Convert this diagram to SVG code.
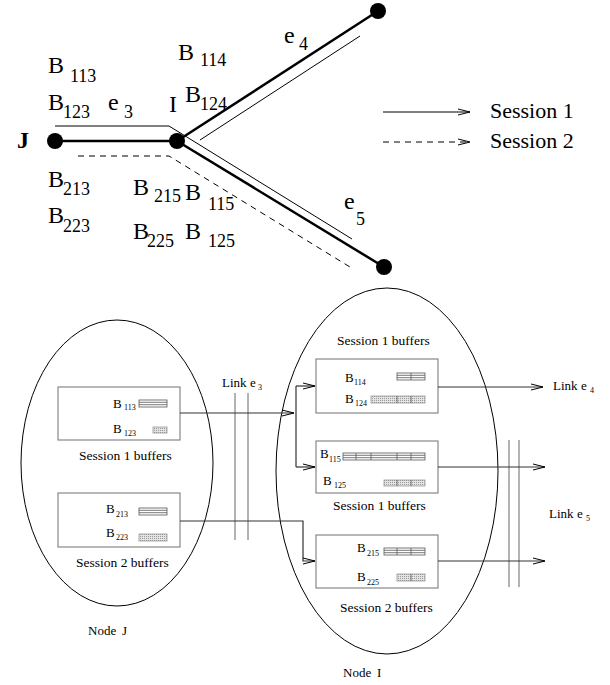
<svg xmlns="http://www.w3.org/2000/svg" width="610" height="685" viewBox="0 0 610 685">
<style>
text{font-family:"Liberation Serif","Times New Roman",serif;fill:#000}
.big{font-size:24px}
.sub{font-size:18px}
.leg{font-size:22px}
.sm{font-size:13.5px}
.bl{font-size:13px}
.bs{font-size:8px}
.thick{stroke:#000;stroke-width:2.5;fill:none}
.thin{stroke:#000;stroke-width:1;fill:none}
.dash{stroke:#000;stroke-width:1;fill:none;stroke-dasharray:6,5}
.box{fill:#fff;stroke:#888;stroke-width:1.2}
.ell{fill:none;stroke:#000;stroke-width:1}
.link{stroke:#666;stroke-width:1;fill:none}
.conn{stroke:#333;stroke-width:1.2;fill:none}
.q{fill:#fff;stroke:#555;stroke-width:0.8}
.h{fill:url(#dots);stroke:#999;stroke-width:0.8}
</style>
<defs>
<marker id="arr" markerWidth="14" markerHeight="8" refX="13" refY="4" orient="auto" markerUnits="userSpaceOnUse">
<path d="M1,1 L13,4 L1,7" fill="none" stroke="#000" stroke-width="1"/>
</marker>
<pattern id="dots" width="2" height="2" patternUnits="userSpaceOnUse">
<rect width="2" height="2" fill="#e4e4e4"/>
<rect width="1" height="1" fill="#9a9a9a"/>
</pattern>
</defs>

<!-- top graph -->
<g id="connectors-top">
<line class="thick" x1="55" y1="141" x2="177" y2="141"/>
<line class="thick" x1="177" y1="141" x2="378" y2="11"/>
<line class="thick" x1="177" y1="141" x2="384" y2="267"/>
<polyline class="thin" points="55,126 169,126 352,239"/>
<line class="thin" x1="200" y1="140" x2="360" y2="36"/>
<polyline class="dash" points="78,156 169,156 350,267"/>
</g>
<g id="node-J"><circle cx="55" cy="141" r="8"/><text class="big" x="17" y="148" font-weight="bold">J</text></g>
<g id="node-I"><circle cx="177" cy="141" r="8"/><text class="big" x="169" y="112">I</text></g>
<g id="node-top"><circle cx="378" cy="11" r="8"/></g>
<g id="node-bottom"><circle cx="384" cy="267" r="8"/></g>

<g id="labels-top">
<text class="big" x="48" y="73">B</text><text class="sub" x="70" y="82">113</text>
<text class="big" x="48" y="110">B</text><text class="sub" x="63" y="118">123</text>
<text class="big" x="108" y="110">e</text><text class="sub" x="124" y="118">3</text>
<text class="big" x="178" y="60">B</text><text class="sub" x="200" y="66">114</text>
<text class="big" x="185" y="102">B</text><text class="sub" x="200" y="110">124</text>
<text class="big" x="284" y="43">e</text><text class="sub" x="299" y="50">4</text>
<text class="big" x="48" y="187">B</text><text class="sub" x="63" y="195">213</text>
<text class="big" x="48" y="223">B</text><text class="sub" x="63" y="232">223</text>
<text class="big" x="133" y="195">B</text><text class="sub" x="154" y="202">215</text>
<text class="big" x="185" y="200">B</text><text class="sub" x="208" y="210">115</text>
<text class="big" x="133" y="239">B</text><text class="sub" x="147" y="247">225</text>
<text class="big" x="185" y="239">B</text><text class="sub" x="208" y="247">125</text>
<text class="big" x="344" y="209">e</text><text class="sub" x="356" y="225">5</text>
</g>

<g id="legend">
<line class="thin" x1="383" y1="112" x2="470" y2="112" marker-end="url(#arr)"/>
<text class="leg" x="490" y="118">Session 1</text>
<line class="dash" x1="383" y1="142" x2="470" y2="142" marker-end="url(#arr)"/>
<text class="leg" x="490" y="148">Session 2</text>
</g>

<!-- bottom -->
<g id="node-J-big">
<ellipse class="ell" cx="117" cy="463" rx="96" ry="143"/>
<text class="bl" x="88" y="635">Node</text><text class="bl" x="122" y="635">J</text>
</g>
<g id="node-I-big">
<ellipse class="ell" cx="387" cy="471" rx="111" ry="183"/>
<text class="bl" x="343" y="677">Node</text><text class="bl" x="377" y="677">I</text>
</g>

<g id="links">
<line class="link" x1="235" y1="393" x2="235" y2="540"/>
<line class="link" x1="248" y1="393" x2="248" y2="540"/>
<text class="bl" x="222" y="387">Link</text><text class="bl" x="250" y="387">e</text><text class="bs" x="258" y="390">3</text>
<line class="link" x1="509" y1="440" x2="509" y2="587"/>
<line class="link" x1="519" y1="440" x2="519" y2="587"/>
<text class="bl" x="549" y="518">Link</text><text class="bl" x="577" y="518">e</text><text class="bs" x="586" y="521">5</text>
<text class="bl" x="553" y="390">Link</text><text class="bl" x="581" y="390">e</text><text class="bs" x="590" y="393">4</text>
</g>

<g id="box-J1">
<rect class="box" x="58" y="387" width="122" height="53"/>
<text class="bl" x="113" y="408">B</text><text class="bs" x="124" y="410">113</text>
<rect class="q" x="139" y="400" width="28" height="7"/><line class="q" x1="139" y1="402.3" x2="167" y2="402.3"/><line class="q" x1="139" y1="404.7" x2="167" y2="404.7"/>
<text class="bl" x="113" y="433">B</text><text class="bs" x="124" y="436">123</text>
<rect class="h" x="153" y="427" width="14" height="6"/>
<text class="sm" x="79" y="460">Session 1 buffers</text>
</g>
<g id="box-J2">
<rect class="box" x="58" y="493" width="122" height="54"/>
<text class="bl" x="106" y="513">B</text><text class="bs" x="116" y="517">213</text>
<rect class="q" x="139" y="508" width="28" height="7"/><line class="q" x1="139" y1="510.3" x2="167" y2="510.3"/><line class="q" x1="139" y1="512.7" x2="167" y2="512.7"/>
<text class="bl" x="106" y="537">B</text><text class="bs" x="116" y="540">223</text>
<rect class="h" x="139" y="534" width="28" height="7"/>
<text class="sm" x="76" y="567">Session 2 buffers</text>
</g>

<g id="box-I1">
<text class="sm" x="337" y="345">Session 1 buffers</text>
<rect class="box" x="316" y="359" width="122" height="54"/>
<text class="bl" x="345" y="382">B</text><text class="bs" x="354" y="385">114</text>
<rect class="q" x="397" y="373" width="28" height="7"/><line class="q" x1="397" y1="375.3" x2="425" y2="375.3"/><line class="q" x1="397" y1="377.7" x2="425" y2="377.7"/><line class="q" x1="411" y1="373" x2="411" y2="380"/>
<text class="bl" x="345" y="403">B</text><text class="bs" x="355" y="406">124</text>
<rect class="h" x="371" y="396" width="54" height="7"/><line class="q" x1="397" y1="396" x2="397" y2="403"/><line class="q" x1="411" y1="396" x2="411" y2="403"/>
</g>
<g id="box-I2">
<rect class="box" x="316" y="441" width="122" height="52"/>
<text class="bl" x="320" y="458">B</text><text class="bs" x="329" y="462">115</text>
<rect class="q" x="343" y="453" width="82" height="7"/><line class="q" x1="343" y1="455.3" x2="425" y2="455.3"/><line class="q" x1="343" y1="457.7" x2="425" y2="457.7"/>
<line class="q" x1="356" y1="453" x2="356" y2="460"/><line class="q" x1="371" y1="453" x2="371" y2="460"/><line class="q" x1="397" y1="453" x2="397" y2="460"/><line class="q" x1="411" y1="453" x2="411" y2="460"/>
<text class="bl" x="323" y="485">B</text><text class="bs" x="334" y="488">125</text>
<rect class="h" x="384" y="480" width="41" height="6"/><line class="q" x1="397" y1="480" x2="397" y2="486"/><line class="q" x1="411" y1="480" x2="411" y2="486"/>
<text class="sm" x="333" y="510">Session 1 buffers</text>
</g>
<g id="box-I3">
<rect class="box" x="316" y="535" width="122" height="53"/>
<text class="bl" x="357" y="552">B</text><text class="bs" x="367" y="556">215</text>
<rect class="q" x="384" y="548" width="41" height="7"/><line class="q" x1="384" y1="550.3" x2="425" y2="550.3"/><line class="q" x1="384" y1="552.7" x2="425" y2="552.7"/><line class="q" x1="397" y1="548" x2="397" y2="555"/><line class="q" x1="411" y1="548" x2="411" y2="555"/>
<text class="bl" x="357" y="581">B</text><text class="bs" x="367" y="585">225</text>
<rect class="h" x="397" y="574" width="28" height="7"/><line class="q" x1="411" y1="574" x2="411" y2="581"/>
<text class="sm" x="340" y="612">Session 2 buffers</text>
</g>

<g id="connectors-bottom">
<line class="conn" x1="180" y1="413" x2="294" y2="413" marker-end="url(#arr)"/>
<line class="conn" x1="296" y1="386" x2="296" y2="467"/>
<line class="conn" x1="296" y1="386" x2="315" y2="386" marker-end="url(#arr)"/>
<line class="conn" x1="296" y1="467" x2="315" y2="467" marker-end="url(#arr)"/>
<polyline class="conn" points="180,521 303,521 303,561 315,561" marker-end="url(#arr)"/>
<line class="conn" x1="438" y1="387" x2="543" y2="387" marker-end="url(#arr)"/>
<line class="conn" x1="438" y1="467" x2="545" y2="467" marker-end="url(#arr)"/>
<line class="conn" x1="438" y1="561" x2="545" y2="561" marker-end="url(#arr)"/>
</g>
</svg>
